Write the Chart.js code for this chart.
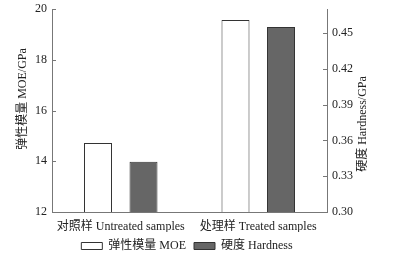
<!DOCTYPE html>
<html>
<head>
<meta charset="utf-8">
<script src="https://cdn.jsdelivr.net/npm/chart.js@4.4.0/dist/chart.umd.min.js"></script>
<style>
  html, body { margin: 0; padding: 0; background: #fff; }
  #wrap { width: 397px; height: 256px; position: relative; }
</style>
</head>
<body>
<div id="wrap"><canvas id="c"></canvas></div>
<script>
const categories = ['对照样 Untreated samples', '处理样 Treated samples'];
const moeValues = [14.72, 19.57];
const hardnessValues = [0.342, 0.455];
const moeTicks = [12, 14, 16, 18, 20];
const hardnessTicks = [0.30, 0.33, 0.36, 0.39, 0.42, 0.45];

const FONT = "'Liberation Serif', 'Noto Sans CJK SC', serif";
const AXIS = '#777';

// keep the legend band short so the plot gets the height
const legendHeight = {
  id: 'legendHeight',
  beforeLayout(chart) {
    const lg = chart.legend;
    if (lg && !lg._patched) {
      const fit = lg.fit.bind(lg);
      lg.fit = function () { fit(); this.height = 24; };
      lg._patched = true;
    }
  }
};

// ticks pointing into the plot, plus both y titles reading upwards
const extras = {
  id: 'extras',
  afterDraw(chart) {
    const ctx = chart.ctx;
    const yL = chart.scales.y, yR = chart.scales.y1;
    ctx.save();
    ctx.strokeStyle = AXIS;
    ctx.lineWidth = 1;
    yL.ticks.forEach(t => {
      const p = Math.round(yL.getPixelForValue(t.value)) + 0.5;
      ctx.beginPath(); ctx.moveTo(yL.right, p); ctx.lineTo(yL.right + 4, p); ctx.stroke();
    });
    yR.ticks.forEach(t => {
      const p = Math.round(yR.getPixelForValue(t.value)) + 0.5;
      ctx.beginPath(); ctx.moveTo(yR.left, p); ctx.lineTo(yR.left - 4, p); ctx.stroke();
    });
    ctx.fillStyle = '#222';
    ctx.font = '12px ' + FONT;
    ctx.textAlign = 'center';
    ctx.textBaseline = 'middle';
    ctx.translate(23, 99);
    ctx.rotate(-Math.PI / 2);
    ctx.fillText('弹性模量 MOE/GPa', 0, 0);
    ctx.restore();
    ctx.save();
    ctx.fillStyle = '#222';
    ctx.font = '12px ' + FONT;
    ctx.textAlign = 'center';
    ctx.textBaseline = 'middle';
    ctx.translate(363, 124);
    ctx.rotate(-Math.PI / 2);
    ctx.fillText('硬度 Hardness/GPa', 0, 0);
    ctx.restore();
  }
};

const trimY = w => s => { s.width = w; s.paddingTop = 0; s.paddingBottom = 0; };

new Chart(document.getElementById('c'), {
  type: 'bar',
  data: {
    labels: categories,
    datasets: [
      {
        label: '弹性模量 MOE',
        data: moeValues,
        yAxisID: 'y',
        backgroundColor: '#ffffff',
        borderColor: '#333',
        borderWidth: 1
      },
      {
        label: '硬度 Hardness',
        data: hardnessValues,
        yAxisID: 'y1',
        backgroundColor: '#666666',
        borderColor: '#333',
        borderWidth: 1
      }
    ]
  },
  options: {
    responsive: true,
    maintainAspectRatio: false,
    animation: false,
    layout: { padding: { top: 9, right: 23, left: 0, bottom: 0 } },
    datasets: { bar: { categoryPercentage: 0.662, barPercentage: 0.615 } },
    plugins: {
      tooltip: { enabled: false },
      legend: {
        position: 'bottom',
        labels: {
          boxWidth: 21,
          boxHeight: 7,
          padding: 8,
          color: '#222',
          font: { family: FONT, size: 12 }
        }
      }
    },
    scales: {
      x: {
        afterFit: s => { s.height = 20; },
        grid: { display: false, drawTicks: false },
        border: { display: true, color: AXIS },
        ticks: { color: '#222', padding: 8, font: { family: FONT, size: 12 }, maxRotation: 0 }
      },
      y: {
        position: 'left',
        min: 12, max: 20,
        afterBuildTicks: s => { s.ticks = moeTicks.map(v => ({ value: v })); },
        afterFit: trimY(52),
        grid: { display: false, drawTicks: false },
        border: { display: true, color: AXIS },
        ticks: { color: '#222', padding: 5, font: { family: FONT, size: 12 } }
      },
      y1: {
        position: 'right',
        min: 0.30, max: 0.47,
        afterBuildTicks: s => { s.ticks = hardnessTicks.map(v => ({ value: v })); },
        afterFit: trimY(47),
        grid: { display: false, drawTicks: false },
        border: { display: true, color: AXIS },
        ticks: { color: '#222', padding: 5, font: { family: FONT, size: 12 }, callback: v => v.toFixed(2) }
      }
    }
  },
  plugins: [legendHeight, extras]
});
</script>
</body>
</html>
